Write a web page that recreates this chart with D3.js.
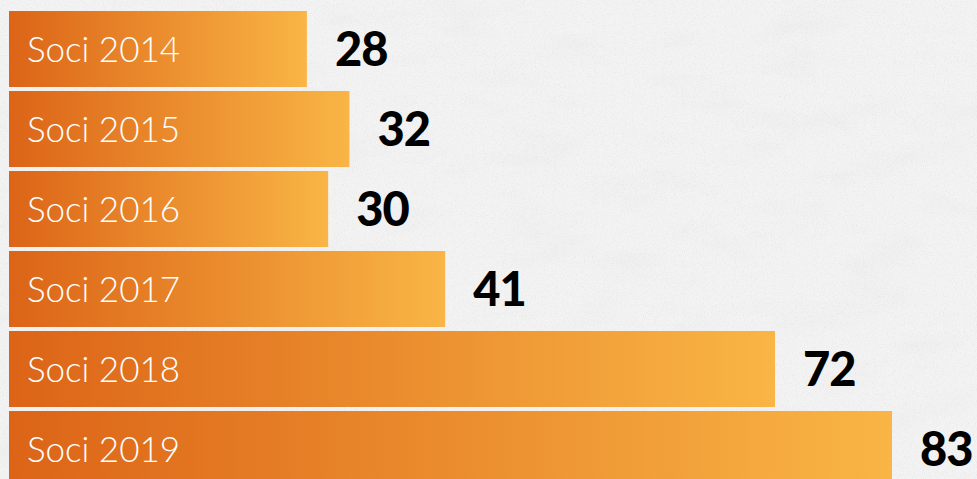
<!DOCTYPE html>
<html>
<head>
<meta charset="utf-8">
<script src="https://cdn.jsdelivr.net/npm/d3@7"></script>
<style>
  html, body { margin: 0; padding: 0; background: #f1f1f1; }
  svg { display: block; }
</style>
</head>
<body>
<svg id="chart" width="977" height="479"></svg>
<script>
const categories = ["Soci 2014", "Soci 2015", "Soci 2016", "Soci 2017", "Soci 2018", "Soci 2019"];
const values = [28, 32, 30, 41, 72, 83];

const W = 977, H = 479;
const svg = d3.select("#chart");
const defs = svg.append("defs");

// background texture
const f = defs.append("filter").attr("id", "tex").attr("x", 0).attr("y", 0).attr("width", "100%").attr("height", "100%");
f.append("feTurbulence").attr("type", "fractalNoise").attr("baseFrequency", "0.012 0.03").attr("numOctaves", 4).attr("seed", 7).attr("result", "n");
f.append("feColorMatrix").attr("in", "n").attr("type", "matrix")
  .attr("values", "0 0 0 0 0.55  0 0 0 0 0.55  0 0 0 0 0.55  -1.2 0 0 0 0.62").attr("result", "c");
f.append("feComposite").attr("in", "c").attr("in2", "SourceGraphic").attr("operator", "in");

const f2 = defs.append("filter").attr("id", "grain").attr("x", 0).attr("y", 0).attr("width", "100%").attr("height", "100%");
f2.append("feTurbulence").attr("type", "fractalNoise").attr("baseFrequency", "0.9").attr("numOctaves", 2).attr("seed", 3).attr("result", "n");
f2.append("feColorMatrix").attr("in", "n").attr("type", "matrix")
  .attr("values", "0 0 0 0 0.5  0 0 0 0 0.5  0 0 0 0 0.5  -2.5 0 0 0 1.3").attr("result", "c");
f2.append("feComposite").attr("in", "c").attr("in2", "SourceGraphic").attr("operator", "in");

svg.append("rect").attr("width", W).attr("height", H).attr("fill", "#f3f3f3");
svg.append("rect").attr("width", W).attr("height", H).attr("fill", "#fff").attr("opacity", 0.18).attr("filter", "url(#tex)");
svg.append("rect").attr("width", W).attr("height", H).attr("fill", "#fff").attr("opacity", 0.2).attr("filter", "url(#grain)");

const grad = defs.append("linearGradient").attr("id", "barGrad")
  .attr("x1", "0%").attr("x2", "100%").attr("y1", "0%").attr("y2", "0%");
grad.append("stop").attr("offset", "0%").attr("stop-color", "#dc6417");
grad.append("stop").attr("offset", "100%").attr("stop-color", "#f9b545");

const x = d3.scaleLinear().domain([0, 83]).range([9, 892]);
const y = d3.scaleBand().domain(categories).range([9, 489]).paddingInner(0.05).paddingOuter(0.025);

const g = svg.append("g");
const rows = g.selectAll("g.row").data(categories.map((c, i) => ({c, v: values[i]})))
  .join("g").attr("class", "row");

rows.append("rect")
  .attr("x", x(0))
  .attr("y", d => y(d.c))
  .attr("width", d => x(d.v) - x(0))
  .attr("height", y.bandwidth())
  .attr("fill", "url(#barGrad)");

rows.append("text")
  .attr("x", x(0) + 18)
  .attr("y", d => y(d.c) + y.bandwidth() / 2)
  .attr("dy", "0.36em")
  .attr("fill", "#ffffff")
  .attr("font-family", "Lato, 'Open Sans', sans-serif")
  .attr("font-weight", 300)
  .attr("font-size", 35)
  .text(d => d.c);

rows.append("text")
  .attr("x", d => x(d.v) + 28)
  .attr("y", d => y(d.c) + y.bandwidth() / 2)
  .attr("dy", "0.36em")
  .attr("fill", "#000000")
  .attr("font-family", "Lato, 'Open Sans', sans-serif")
  .attr("font-weight", 900)
  .attr("font-size", 47)
  .attr("letter-spacing", -1)
  .text(d => d.v);
</script>
</body>
</html>
